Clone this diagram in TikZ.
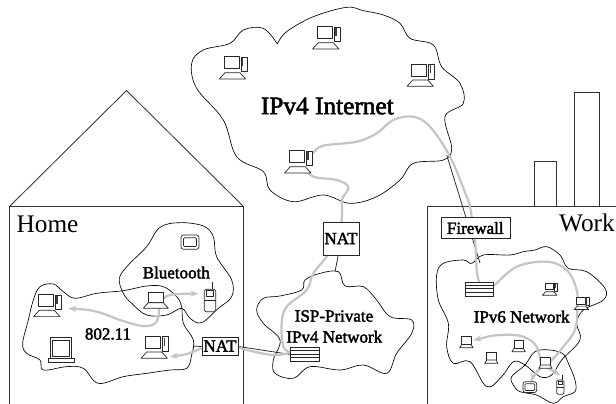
\documentclass[tikz,border=0pt]{standalone}
\usepackage{fontspec}
\setmainfont{Liberation Serif}
\newfontfamily\boldish[FakeBold=2.2]{Liberation Serif}
\usetikzlibrary{arrows.meta}
\tikzset{
  zi/.style={shift={(180,0)},scale=0.33333},
  zh/.style={shift={(0,200)},scale=0.33333},
  zw/.style={shift={(420,200)},scale=0.33333},
  zs/.style={shift={(230,200)},scale=0.33333},
  cloudline/.style={draw=black,line width=0.65pt,line join=round},
  gpath/.style={draw=graytrace,line width=2.2pt,line cap=round},
  gtip/.style={-{Stealth[length=8pt,width=6pt]}},
  gtips/.style={{Stealth[length=8pt,width=6pt]}-{Stealth[length=8pt,width=6pt]}},
  wire/.style={draw=black!85,line width=0.75pt},
  frame/.style={draw=black!80,line width=0.85pt},
  dev/.style={draw=black!85,line width=0.7pt,fill=white,line join=round},
  box/.style={draw=black!85,line width=0.8pt,fill=white,inner sep=0pt,anchor=north west},
  bigtext/.style={font=\fontsize{25.3}{26}\selectfont,inner sep=0pt},
  inettext/.style={font=\boldish\fontsize{25.3}{26}\selectfont,inner sep=0pt},
  midtext/.style={font=\boldish\fontsize{17}{18}\selectfont,inner sep=0pt},
}
\definecolor{graytrace}{HTML}{C4C4C4}
\newcommand{\desktop}[3]{\begin{scope}[shift={(#1,#2)},scale=#3]
  \draw[dev] (0,0) rectangle (15,12);
  \draw[dev] (17,0.7) rectangle (23,15);
  \fill[black!75] (17.8,1.5) rectangle (19.4,9.5);
  \draw[dev] (1,16) -- (16,16) -- (21.7,22.3) -- (-4.7,22.3) -- cycle;
\end{scope}}
\newcommand{\laptop}[2]{\begin{scope}[shift={(#1,#2)}]
  \draw[dev] (0,0) rectangle (15,10);
  \draw[dev] (0,10) -- (15,10) -- (20,15.6) -- (-5,15.6) -- cycle;
\end{scope}}
\newcommand{\smalllaptop}[2]{\begin{scope}[shift={(#1,#2)}]
  \draw[dev] (0,0) rectangle (9.3,7.7);
  \draw[dev] (0,7.7) -- (9.3,7.7) -- (11.3,11) -- (-2,11) -- cycle;
\end{scope}}
\newcommand{\pda}[3]{\begin{scope}[shift={(#1,#2)},scale=#3]
  \draw[dev,rounded corners=2.5pt] (0,0) rectangle (18,14.3);
  \draw[dev,rounded corners=1pt] (2.5,2.8) rectangle (15.5,11.5);
\end{scope}}
\newcommand{\phone}[3]{\begin{scope}[shift={(#1,#2)},scale=#3]
  \draw[dev] (8.4,-7.6) -- (8.4,0);
  \draw[dev,rounded corners=1.5pt] (0,0) rectangle (11.4,22.4);
  \draw[dev] (0,10.7) -- (11.4,10.7);
  \draw[dev] (2.2,1.5) rectangle (9.2,7.5);
\end{scope}}
\newcommand{\routerlines}[4]{%
  \foreach \f in {0.25,0.5,0.75}{\draw[black!85,line width=0.6pt] (#1,{#2+\f*(#4-#2)}) -- (#3,{#2+\f*(#4-#2)});}}
\begin{document}
\begin{tikzpicture}[x=1pt,y=-1pt]
\useasboundingbox (0,0) rectangle (616,404);

% house
\draw[frame] (9.5,404) -- (9.5,206.5) -- (126.5,90.5) -- (243.5,206.5) -- (243.5,404);
\draw[frame] (9.5,206.5) -- (243.5,206.5);
% office
\draw[frame] (534.7,206.5) -- (534.7,161.3) -- (556,161.3) -- (556,206.5);
\draw[frame] (574.5,206.5) -- (574.5,92.7) -- (599,92.7) -- (599,206.5);
\draw[frame] (427,404) -- (427,206.5) -- (616,206.5);

% clouds
\begin{scope}[zi]
\draw[cloudline] plot[smooth,tension=0.6] coordinates {(292,132) (320,95) (400,50) (500,22) (550,32) (610,45) (660,70) (690,115) (760,135) (785,200) (840,250) (850,310) (795,350) (815,445) (790,480) (700,490) (660,540) (590,590) (510,610) (430,585) (340,605) (270,570) (250,515) (170,470) (130,360) (50,265) (35,190) (70,150) (150,130) (190,90) (250,85) (292,132)};
\end{scope}
\begin{scope}[zh]
\draw[cloudline] plot[smooth cycle,tension=0.6] coordinates {(100,300) (120,260) (160,252) (190,275) (225,295) (290,280) (370,272) (440,258) (490,260) (530,290) (545,320) (550,370) (580,420) (575,465) (560,505) (510,510) (440,520) (370,530) (295,550) (250,505) (200,500) (130,510) (120,480) (80,460) (68,430) (85,360)};
\draw[cloudline] plot[smooth cycle,tension=0.6] coordinates {(358,235) (385,195) (440,140) (480,82) (540,68) (610,78) (640,110) (650,170) (695,240) (695,290) (655,325) (605,368) (570,355) (545,325) (500,345) (440,345) (395,310) (370,280)};
\end{scope}
\begin{scope}[zs]
\draw[cloudline] plot[smooth cycle,tension=0.6] coordinates {(80,330) (100,295) (150,288) (215,270) (225,240) (270,220) (325,215) (345,258) (400,260) (440,300) (480,350) (545,360) (545,400) (500,460) (470,520) (400,495) (330,510) (240,500) (190,535) (135,520) (130,480) (150,420) (100,370)};
\end{scope}
\begin{scope}[zw]
\draw[cloudline] plot[smooth cycle,tension=0.6] coordinates {(50,225) (70,190) (130,180) (155,190) (190,165) (270,165) (310,155) (345,150) (380,140) (420,165) (445,205) (500,215) (555,265) (550,300) (490,330) (470,370) (480,420) (425,480) (395,525) (360,530) (315,495) (280,485) (245,530) (200,560) (150,485) (100,490) (80,440) (85,370) (55,300)};
\draw[cloudline] plot[smooth cycle,tension=0.6] coordinates {(275,530) (315,495) (345,455) (390,450) (430,462) (445,490) (465,540) (465,575) (430,590) (400,610) (350,585) (300,575) (280,555)};
\end{scope}

% named boxes and ends of the connectors
\coordinate (inetS) at (341,203);
\coordinate (inetE) at (446.7,155);
\coordinate (ispN) at (335,271.7);
\coordinate (netN) at (480,263);
\coordinate (wifiE) at (193.3,346);
\coordinate (natB) at (338.3,255);
\coordinate (natT) at (341,222);
\path (322.7,222) node[box,minimum width=36.6pt,minimum height=33pt] (nattop) {};
\path (201.7,337.3) node[box,minimum width=36.6pt,minimum height=17.7pt] (nathome) {};
\path (290,347.3) node[box,minimum width=28.7pt,minimum height=13.4pt] (ispr) {};
\path (465,281.7) node[box,minimum width=28.3pt,minimum height=14pt] (workr) {};
\path (440.7,217.3) node[box,minimum width=69.3pt,minimum height=21pt] (fw) {};

% black connectors
\draw[wire] (inetS) -- (natT);
\draw[wire] (natB) -- (ispN);
\draw[wire] (inetE) -- (netN);
\draw[wire] (wifiE) -- (nathome.west);
\draw[wire] (nathome.east) -- (ispr.west);

% gray traces
\draw[gpath] plot[smooth,tension=0.6] coordinates {(308.3,156.7) (313.3,152.7) (323.3,145.7) (356.7,141.7) (376.7,133.3) (393.3,120) (413.3,116.7) (430,126.7) (450,156.7) (466.7,196.7) (470,206.7) (475,240) (476.7,270) (480,283.3) (486.7,287.3)};
\draw[gpath,gtip] plot[smooth,tension=0.6] coordinates {(495,285) (516.7,266.7) (546.7,261.7) (566.7,270) (576.7,290) (577.3,310) (575,330) (563.3,346.7) (551.7,360) (536.7,371.7) (531.7,381)};
\begin{scope}[zw]
\draw[gpath,gtips] plot[smooth,tension=0.6] coordinates {(160,421) (240,405) (310,410) (350,440) (365,490) (395,510) (420,525)};
\end{scope}
\begin{scope}[zh]
\draw[gpath,gtips] plot[smooth,tension=0.6] coordinates {(205,325) (290,335) (360,360) (430,378) (470,365) (482,310) (510,285) (595,281)};
\draw[gpath,gtip] plot[smooth,tension=0.6] coordinates {(605,445) (560,462) (510,470)};
\end{scope}
\draw[gpath] plot[smooth,tension=0.6] coordinates {(238,347) (247,350) (273,355) (290,352.7)};
\begin{scope}[zs]
\draw[gpath] plot[smooth,tension=0.6] coordinates {(185,458) (160,440) (155,370) (170,320) (230,270) (250,220) (290,170) (320,120) (335,60) (335,0)};
\end{scope}
\begin{scope}[zi]
\draw[gpath] plot[smooth,tension=0.6] coordinates {(485,600) (490,590) (505,560) (470,540) (400,530) (370,500)};
\end{scope}

% boxes on top
\path (322.7,222) node[box,minimum width=36.6pt,minimum height=33pt] {};
\path (201.7,337.3) node[box,minimum width=36.6pt,minimum height=17.7pt] {};
\path (290,347.3) node[box,minimum width=28.7pt,minimum height=13.4pt] {};
\path (465,281.7) node[box,minimum width=28.3pt,minimum height=14pt] {};
\path (440.7,217.3) node[box,minimum width=69.3pt,minimum height=21pt] {};
\routerlines{290}{347.3}{318.7}{360.7}
\routerlines{465}{281.7}{493.3}{295.7}

% computers
\desktop{317.3}{26.7}{1}
\desktop{224}{56.7}{1}
\desktop{411.7}{64}{1}
\desktop{289.3}{150.7}{1}
\desktop{38.3}{294.3}{1}
\desktop{145.7}{336}{1}
\laptop{148.3}{292.7}
\desktop{545}{283}{0.55}
\desktop{576.7}{297.3}{0.55}
\smalllaptop{461.7}{336.7}
\smalllaptop{486.7}{352.3}
\smalllaptop{514}{340.7}
\smalllaptop{540.7}{357.3}
\pda{181}{235}{1}
\pda{523}{381.7}{0.76}
\phone{204.3}{289.3}{1}
\phone{556.7}{380}{0.64}
% large monitor
\draw[dev] (50,337.7) rectangle (71.7,358.3);
\draw[dev] (52,340) rectangle (69.7,356.5);
\draw[dev] (48.3,358.3) rectangle (74,362.7);

% text
\node[inettext] (tinet) at (327.3,106) {IPv4 Internet};
\node[bigtext] (thome) at (47.5,224) {Home};
\node[bigtext] (twork) at (587,223) {Work};
\node[midtext] (tbt) at (176.3,272.5) {Bluetooth};
\node[midtext] (twifi) at (108,334) {802.11};
\node[midtext] (tnat1) at (341,238.5) {NAT};
\node[midtext] (tnat2) at (220,346) {NAT};
\node[midtext] (tfw) at (475.3,228) {Firewall};
\node[midtext] (tv6) at (521.7,316.7) {IPv6 Network};
\node[midtext] (tisp) at (334,316) {ISP-Private};
\node[midtext] (tv4) at (334.3,336.7) {IPv4 Network};
\end{tikzpicture}
\end{document}
